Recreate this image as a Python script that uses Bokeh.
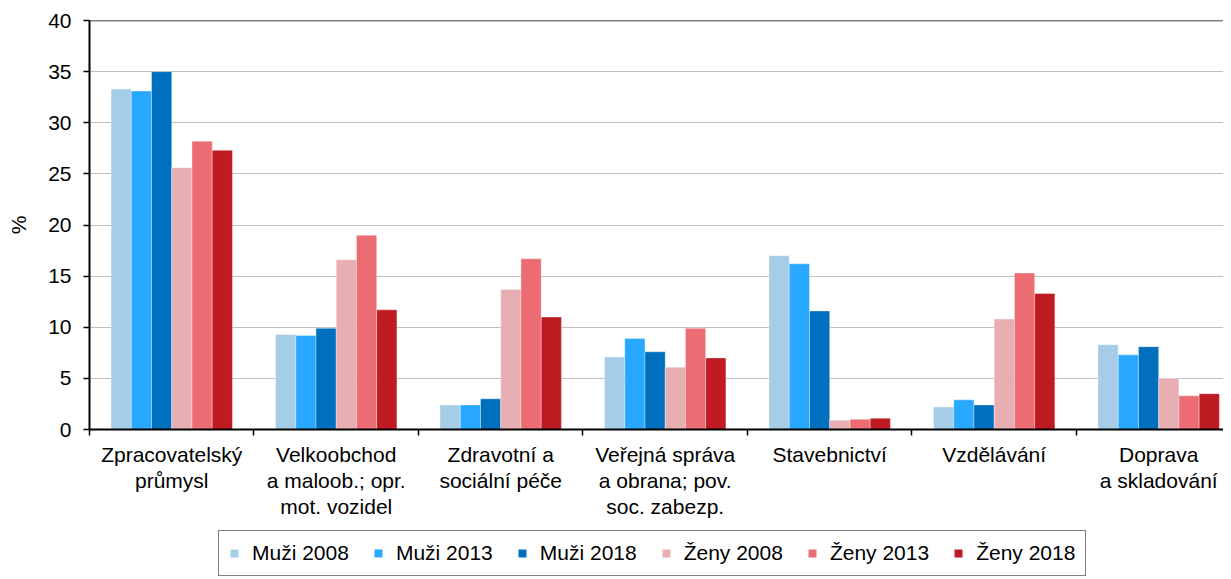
from bokeh.plotting import figure
from bokeh.layouts import column
from bokeh.models import (Range1d, LinearAxis, FixedTicker, Span, Legend, LegendItem,
                          ColumnDataSource)
from bokeh.embed import file_html
from bokeh.resources import INLINE

categories = [
    "Zpracovatelský\nprůmysl",
    "Velkoobchod\na maloob.; opr.\nmot. vozidel",
    "Zdravotní a\nsociální péče",
    "Veřejná správa\na obrana; pov.\nsoc. zabezp.",
    "Stavebnictví",
    "Vzdělávání",
    "Doprava\na skladování",
]
series_names = ["Muži 2008", "Muži 2013", "Muži 2018", "Ženy 2008", "Ženy 2013", "Ženy 2018"]
muzi_2008 = [33.3, 9.3, 2.4, 7.1, 17.0, 2.2, 8.3]
muzi_2013 = [33.1, 9.2, 2.4, 8.9, 16.2, 2.9, 7.3]
muzi_2018 = [35.0, 9.9, 3.0, 7.6, 11.6, 2.4, 8.1]
zeny_2008 = [25.6, 16.6, 13.7, 6.1, 0.9, 10.8, 5.0]
zeny_2013 = [28.2, 19.0, 16.7, 9.9, 1.0, 15.3, 3.3]
zeny_2018 = [27.3, 11.7, 11.0, 7.0, 1.1, 13.3, 3.5]
y_ticks = [0, 5, 10, 15, 20, 25, 30, 35, 40]

series_values = [muzi_2008, muzi_2013, muzi_2018, zeny_2008, zeny_2013, zeny_2018]
colors = ["#A6CDE8", "#29A8FF", "#0070BE", "#E8AFB2", "#EB6C73", "#BE1B22"]

FONT = "Liberation Sans"
FS = "21px"

MAIN_H = 521
LEG_H = 56
W = 1223

p = figure(width=W, height=MAIN_H, output_backend="svg", toolbar_location=None,
           x_range=Range1d(0, 6.894), y_range=Range1d(0, 40),
           x_axis_type=None, min_border_left=89, min_border_top=20,
           min_border_right=0, min_border_bottom=0)
p.outline_line_color = None
p.xgrid.visible = False

# legend-only figure (its copies of the bars lie far outside its visible ranges)
lf = figure(width=W, height=LEG_H, output_backend="svg", toolbar_location=None,
            x_range=Range1d(100, 101), y_range=Range1d(100, 101),
            x_axis_type=None, y_axis_type=None,
            min_border_left=0, min_border_top=0, min_border_right=0, min_border_bottom=0)
lf.outline_line_color = None
lf.xgrid.visible = False
lf.ygrid.visible = False

bar_w = 0.123
items = []
for j, (name, vals, col) in enumerate(zip(series_names, series_values, colors)):
    xs = [i + 0.5 + (j - 2.5) * bar_w for i in range(len(categories))]
    src = ColumnDataSource(dict(x=xs, top=vals))
    p.vbar(x="x", top="top", width=bar_w, source=src, fill_color=col,
           line_color="white", line_alpha=0.35, line_width=1)
    r = lf.vbar(x="x", top="top", width=bar_w, source=src, fill_color=col, line_color=None)
    items.append(LegendItem(label=name, renderers=[r]))

# y axis
yax = p.yaxis[0]
yax.ticker = FixedTicker(ticks=y_ticks)
yax.axis_line_color = "black"
yax.axis_line_width = 2
yax.major_tick_line_color = "black"
yax.major_tick_line_width = 1.5
yax.major_tick_out = 6
yax.major_tick_in = 0
yax.minor_tick_line_color = None
yax.major_label_text_font = FONT
yax.major_label_text_font_size = FS
yax.major_label_text_color = "black"
yax.major_label_standoff = 12
yax.axis_label = "%"
yax.axis_label_text_font = FONT
yax.axis_label_text_font_size = FS
yax.axis_label_text_font_style = "normal"
yax.axis_label_text_color = "black"
yax.axis_label_standoff = 15

p.ygrid.ticker = FixedTicker(ticks=y_ticks)
p.ygrid.grid_line_color = "#C0C0C0"
p.ygrid.grid_line_width = 1

p.add_layout(Span(location=40, dimension="width", line_color="black", line_width=1.5))

# x axis with ticks between categories
centers = [i + 0.5 for i in range(len(categories))]
bounds = [float(i) for i in range(len(categories) + 1)]
xax = LinearAxis(ticker=FixedTicker(ticks=centers, minor_ticks=bounds))
xax.major_label_overrides = {c: lab for c, lab in zip(centers, categories)}
xax.axis_line_color = "black"
xax.axis_line_width = 2
xax.major_tick_line_color = None
xax.major_tick_out = 6
xax.minor_tick_line_color = "black"
xax.minor_tick_line_width = 1.5
xax.minor_tick_out = 6
xax.minor_tick_in = 0
xax.major_label_text_font = FONT
xax.major_label_text_font_size = FS
xax.major_label_text_color = "black"
xax.major_label_standoff = 7
xax.major_label_text_line_height = 1.15
p.add_layout(xax, "below")

legend = Legend(items=items, orientation="horizontal", location=(129, 1))
legend.label_text_font = FONT
legend.label_text_font_size = FS
legend.label_text_color = "black"
legend.glyph_width = 10
legend.glyph_height = 10
legend.label_height = 8
legend.label_standoff = 13
legend.spacing = 24
legend.padding = 10
legend.margin = 0
legend.border_line_color = "black"
legend.border_line_width = 1.5
legend.background_fill_color = "white"
lf.add_layout(legend, "center")

layout = column(p, lf, spacing=0)
open("out.html", "w").write(file_html(layout, INLINE))
